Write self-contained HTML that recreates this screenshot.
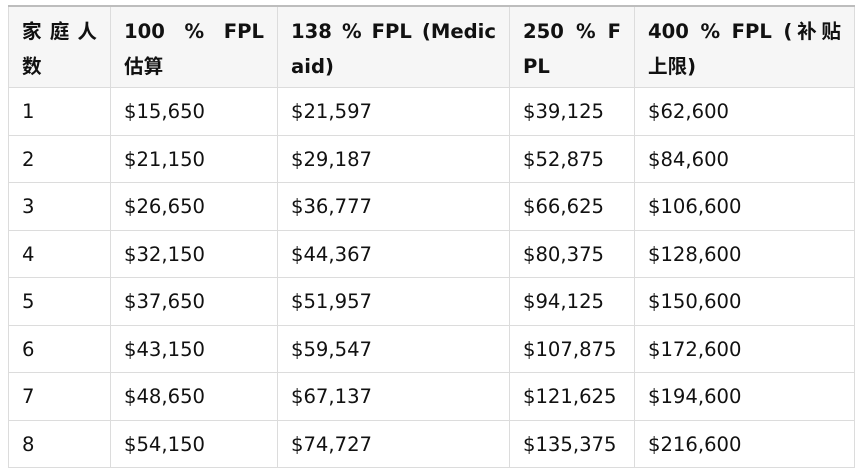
<!DOCTYPE html>
<html><head><meta charset="utf-8"><style>
body{margin:0;background:#fff;width:858px;height:474px;overflow:hidden;}
table{position:absolute;left:8px;top:5px;border-collapse:collapse;table-layout:fixed;width:846px;
font-family:"DejaVu Sans","Noto Sans CJK SC",sans-serif;font-size:19.6px;color:#111;}
th,td{border:1px solid #dcdcdc;padding:0 13px;vertical-align:middle;white-space:nowrap;}
thead tr{border-top:2px solid #bdbdbd;}
th{background:#f6f6f6;height:77px;text-align:left;font-weight:bold;line-height:35px;padding-top:3px;}
th .j{text-align:justify;text-align-last:justify;}
td{height:44.5px;padding-top:2px;line-height:24px;}
</style></head><body>
<table>
<colgroup><col style="width:102px"><col style="width:167px"><col style="width:232px"><col style="width:125px"><col style="width:220px"></colgroup>
<thead><tr>
<th><div class="j">家 庭 人</div><div>数</div></th>
<th><div class="j">100 % FPL</div><div>估算</div></th>
<th><div class="j">138 % FPL (Medic</div><div>aid)</div></th>
<th><div class="j">250 % F</div><div>PL</div></th>
<th><div class="j">400 % FPL (补贴</div><div>上限)</div></th>
</tr></thead>
<tbody>
<tr><td>1</td><td>$15,650</td><td>$21,597</td><td>$39,125</td><td>$62,600</td></tr>
<tr><td>2</td><td>$21,150</td><td>$29,187</td><td>$52,875</td><td>$84,600</td></tr>
<tr><td>3</td><td>$26,650</td><td>$36,777</td><td>$66,625</td><td>$106,600</td></tr>
<tr><td>4</td><td>$32,150</td><td>$44,367</td><td>$80,375</td><td>$128,600</td></tr>
<tr><td>5</td><td>$37,650</td><td>$51,957</td><td>$94,125</td><td>$150,600</td></tr>
<tr><td>6</td><td>$43,150</td><td>$59,547</td><td>$107,875</td><td>$172,600</td></tr>
<tr><td>7</td><td>$48,650</td><td>$67,137</td><td>$121,625</td><td>$194,600</td></tr>
<tr><td>8</td><td>$54,150</td><td>$74,727</td><td>$135,375</td><td>$216,600</td></tr>
</tbody></table>
</body></html>
